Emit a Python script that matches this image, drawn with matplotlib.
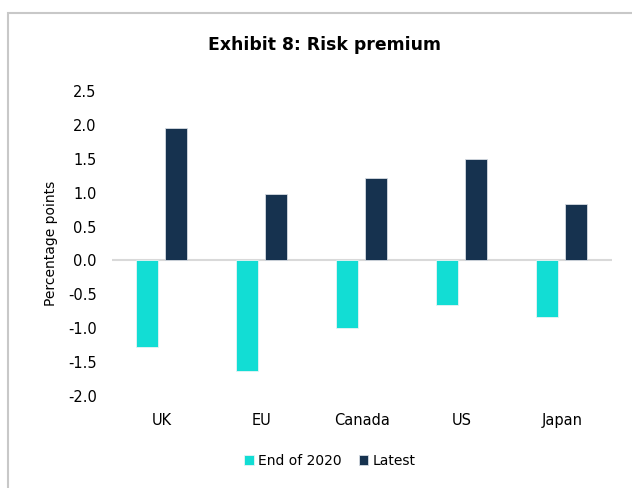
import numpy as np
import matplotlib
matplotlib.use('Agg')
from matplotlib import pyplot as plt
from matplotlib.patches import Rectangle

countries = ['UK', 'EU', 'Canada', 'US', 'Japan']
end_2020 = [-1.28, -1.63, -1.00, -0.65, -0.83]
latest = [1.95, 0.98, 1.21, 1.49, 0.84]
yticks = [-2.0, -1.5, -1.0, -0.5, 0.0, 0.5, 1.0, 1.5, 2.0, 2.5]

plt.rcParams['font.family'] = ['DejaVu Sans']
fig = plt.figure(figsize=(6.32, 4.88), dpi=100)
ax = fig.add_axes([0.1772, 0.1885, 0.7911, 0.625])

x = np.arange(len(countries))
w = 0.22
ax.bar(x - 0.145, end_2020, w, color='#12DDD4', edgecolor='#E8F4F4', linewidth=0.6,
       label='End of 2020', zorder=3)
ax.bar(x + 0.145, latest, w, color='#16324F', edgecolor='#D6DCE2', linewidth=0.6,
       label='Latest', zorder=3)

ax.axhline(0, color='#D9D9D9', linewidth=1.5, zorder=2)
ax.set_xlim(-0.5, len(countries) - 0.5)
ax.set_ylim(-2.0, 2.5)
ax.set_yticks(yticks)
ax.set_yticklabels([f'{v:.1f}' for v in yticks])
ax.set_xticks(x)
ax.set_xticklabels(countries)
for s in ax.spines.values():
    s.set_visible(False)
ax.tick_params(axis='both', length=0, labelsize=10.5, colors='#000000')
ax.tick_params(axis='y', pad=11)
ax.tick_params(axis='x', pad=12)
ax.set_ylabel('Percentage points', fontsize=10, labelpad=7)

fig.text(0.514, 0.908, 'Exhibit 8: Risk premium', ha='center', va='center',
         fontsize=12.4, fontweight='bold')

leg = fig.legend(loc='center', bbox_to_anchor=(0.522, 0.055), ncol=2, frameon=False,
                 fontsize=10, handlelength=0.7, handleheight=0.7, handletextpad=0.3,
                 columnspacing=1.2)

# outer frame around the chart area
fig.patches.append(Rectangle((7.5 / 632, -0.1), 1.2, 1.1 - 13.5 / 488,
                             transform=fig.transFigure, fill=False,
                             edgecolor='#C8C8C8', linewidth=1.5))

fig.savefig('out.png', dpi=100)
